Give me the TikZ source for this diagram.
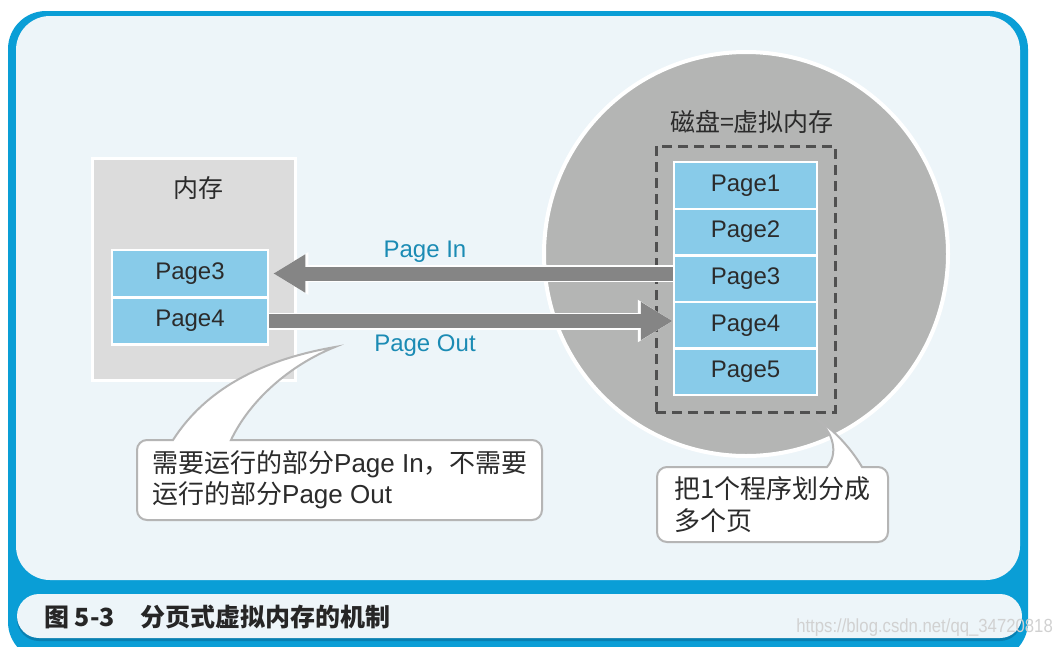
\documentclass[tikz,border=0pt]{standalone}
\usepackage{fontspec}
\setmainfont{Liberation Sans}
\newfontfamily\cjk{Noto Sans CJK SC}
\usetikzlibrary{arrows.meta}
\definecolor{frameblue}{HTML}{0A9ED6}
\definecolor{panelbg}{HTML}{EDF5F9}
\definecolor{memgray}{HTML}{DCDCDC}
\definecolor{pageblue}{HTML}{88CBE9}
\definecolor{diskgray}{HTML}{B4B5B4}
\definecolor{arrowgray}{HTML}{858585}
\definecolor{labelblue}{HTML}{1B8BB4}
\definecolor{textdark}{HTML}{2B2B2B}
\definecolor{dashgray}{HTML}{505050}
\definecolor{bubbleedge}{HTML}{B5B5B5}
\definecolor{capshadow}{HTML}{0880B2}
\newcommand\myfs[1]{\fontsize{#1}{#1}\selectfont}
\newcommand\myfsl[2]{\fontsize{#1}{#2}\selectfont}
\tikzset{
  pagebox/.style={rectangle, fill=pageblue, draw=white, line width=2.5pt,
    inner sep=0pt, text=textdark, font=\myfs{24}},
  mempage/.style={pagebox, minimum width=156pt, minimum height=47pt},
  diskpage/.style={pagebox, minimum width=143pt, minimum height=46.6pt},
  bigarrow/.style={arrowgray, line width=14pt, -{Triangle[length=32pt,width=36pt]},
    preaction={draw=white, line width=17pt, -{Triangle[length=35pt,width=40pt]}}},
  arrowlabel/.style={text=labelblue, font=\myfs{24}, inner sep=0pt},
  darklabel/.style={text=textdark, font=\myfs{25}, inner sep=0pt},
  bubble/.style={fill=white, draw=bubbleedge, line width=2pt},
  bubbletext/.style={text=textdark, font=\myfsl{26}{31}, align=left, inner sep=0pt, anchor=west}
}
\begin{document}
\begin{tikzpicture}[x=1pt,y=-1pt]
\useasboundingbox (0,0) rectangle (1057,646);
\begin{scope}
\clip (0,0) rectangle (1057,646);
\fill[frameblue, rounded corners=38pt] (8,11) rectangle (1028,660);
\end{scope}
\fill[panelbg, rounded corners=34pt] (16,16) rectangle (1020,580);
\fill[capshadow, rounded corners=22pt] (17,596) rectangle (1022,641);
\fill[panelbg, rounded corners=22pt] (17,594) rectangle (1022,638);
\node[anchor=west, inner sep=0pt, text=black!85, font=\cjk\bfseries\myfs{25}] (caption) at (44,617) {图 5-3\hspace{26pt}分页式虚拟内存的机制};

% memory
\node[rectangle, fill=memgray, draw=white, line width=3pt, minimum width=203pt, minimum height=222pt] (mem) at (193.5,269) {};
\node[darklabel, font=\cjk\myfs{25}] (memlabel) at (198,188) {内存};
\node[mempage] (mp3) at (190,273.5) {Page3};
\node[mempage] (mp4) at (190,321) {Page4};

% disk
\node[circle, fill=diskgray, draw=white, line width=4pt, minimum size=404pt, inner sep=0pt] (disk) at (746,254) {};
\node[darklabel, font=\cjk\myfs{25}] (disklabel) at (752,122) {磁盘=虚拟内存};
\node[rectangle, draw=dashgray, line width=3pt, dash pattern=on 10pt off 6pt, minimum width=179pt, minimum height=266pt] (vm) at (745.5,279) {};
\node[diskpage] (dp1) at (745.5,185.5) {Page1};
\node[diskpage] (dp2) at (745.5,232.1) {Page2};
\node[diskpage] (dp3) at (745.5,278.7) {Page3};
\node[diskpage] (dp4) at (745.5,325.3) {Page4};
\node[diskpage] (dp5) at (745.5,371.9) {Page5};

% arrows
\draw[bigarrow, shorten >=4pt] (mp3.east -| dp3.west) -- (mp3.east);
\draw[bigarrow] (mp4.east) -- (mp4.east -| dp4.west);
\node[arrowlabel] (pin) at (425,252) {Page In};
\node[arrowlabel] (pout) at (425,346) {Page Out};

% callout 1
\draw[bubble] (137,450) arc[start angle=180, end angle=270, radius=10]
  -- (173,440) .. controls (205,390) and (260,360) .. (335,347)
  .. controls (290,365) and (250,400) .. (231,440)
  -- (532,440) arc[start angle=270, end angle=360, radius=10]
  -- (542,510) arc[start angle=0, end angle=90, radius=10]
  -- (147,520) arc[start angle=90, end angle=180, radius=10] -- cycle;
\node[bubbletext] (c1) at (152,480) {{\cjk 需要运行的部分}Page In{\cjk ，不需要}\\{\cjk 运行的部分}Page Out};

% callout 2
\draw[bubble] (657,477) arc[start angle=180, end angle=270, radius=10]
  -- (827,467) .. controls (838,455) and (835,432) .. (815,418)
  .. controls (835,430) and (852,450) .. (862,467)
  -- (878,467) arc[start angle=270, end angle=360, radius=10]
  -- (888,532) arc[start angle=0, end angle=90, radius=10]
  -- (667,542) arc[start angle=90, end angle=180, radius=10] -- cycle;
\node[bubbletext, font=\cjk\myfsl{26}{32}] (c2) at (674,505) {把1个程序划分成\\多个页};

% watermark
\node[anchor=east, inner sep=0pt, text=black!18, font=\myfs{19}, xscale=0.88] (wm) at (1053,628) {https://blog.csdn.net/qq\_34720818};
\end{tikzpicture}
\end{document}
